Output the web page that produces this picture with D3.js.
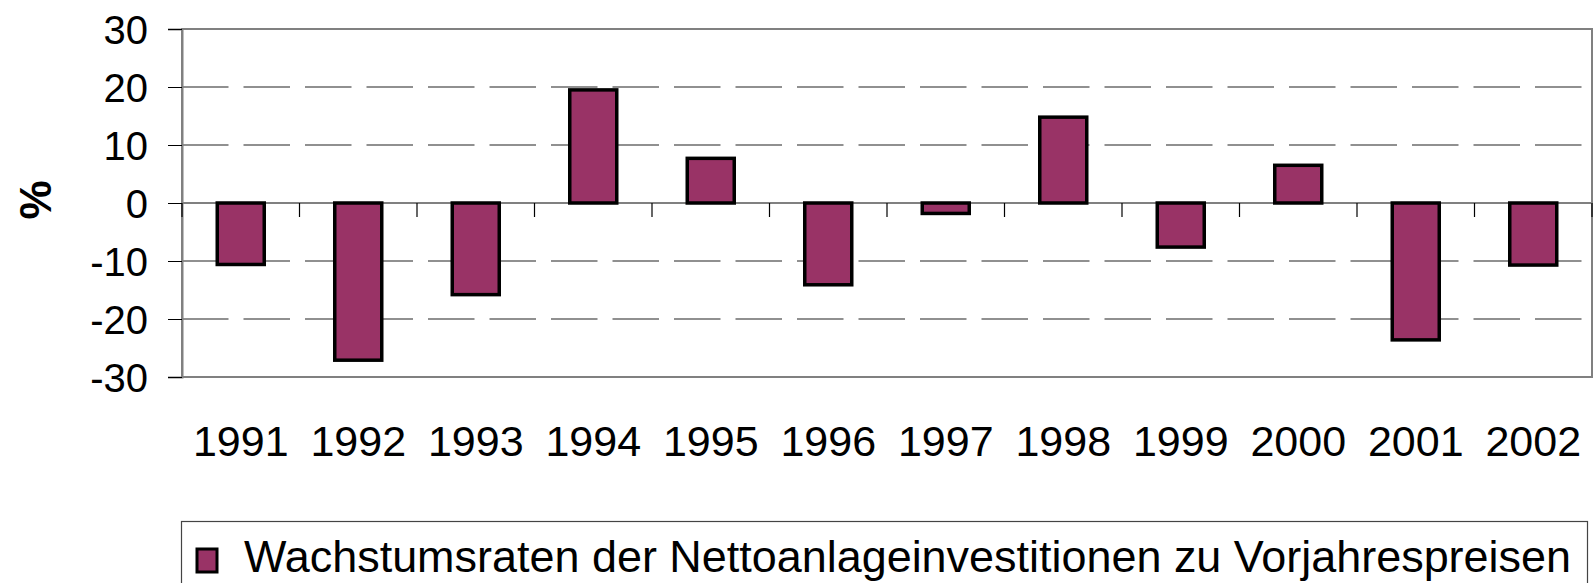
<!DOCTYPE html>
<meta charset="utf-8">
<title>Wachstumsraten der Nettoanlageinvestitionen</title>
<script src="https://d3js.org/d3.v7.min.js"></script>
<style>
  body { margin: 0; background: #fff; }
  text { font-family: "Liberation Sans", Arial, sans-serif; }
</style>
<body>
<svg width="1594" height="583"></svg>
<script>

  // Data
  var years = ["1991", "1992", "1993", "1994", "1995", "1996",
               "1997", "1998", "1999", "2000", "2001", "2002"];
  var rates = [-10.6, -27.1, -15.8, 19.5, 7.7, -14.1,
               -1.8, 14.8, -7.6, 6.5, -23.6, -10.7];
  var yTicks = [-30, -20, -10, 0, 10, 20, 30];
  var seriesName = "Wachstumsraten der Nettoanlageinvestitionen zu Vorjahrespreisen";

  var data = years.map(function(y, i) { return {year: y, value: rates[i]}; });

  var svg = d3.select("svg"),
      margin = {top: 29, right: 2, bottom: 206, left: 182},
      width = svg.attr("width") - margin.left - margin.right,
      height = svg.attr("height") - margin.top - margin.bottom;

  var g = svg.append("g")
      .attr("transform", "translate(" + margin.left + "," + margin.top + ")");

  var x = d3.scaleBand()
      .domain(years)
      .range([0, width])
      .paddingInner(0.6)
      .paddingOuter(0.3);

  var y = d3.scaleLinear()
      .domain([-30, 30])
      .range([height, 0]);

  // Dashed gridlines
  g.selectAll(".grid")
    .data(yTicks.filter(function(d) { return d !== 0 && Math.abs(d) !== 30; }))
    .enter().append("line")
      .attr("class", "grid")
      .attr("x1", 0)
      .attr("x2", width)
      .attr("y1", function(d) { return y(d); })
      .attr("y2", function(d) { return y(d); })
      .attr("stroke", "#222")
      .attr("stroke-width", 1.2)
      .attr("stroke-dasharray", "46.5,15");

  // Plot area border
  g.append("rect")
      .attr("x", 0)
      .attr("y", 0)
      .attr("width", width)
      .attr("height", height)
      .attr("fill", "none")
      .attr("stroke", "#808080")
      .attr("stroke-width", 2);

  // Y axis (plain hyphen for negatives, like the original)
  var yAxis = d3.axisLeft(y)
      .tickValues(yTicks)
      .tickFormat(function(d) { return String(d); })
      .tickSize(14)
      .tickPadding(20);

  g.append("g")
      .attr("class", "axis axis--y")
      .call(yAxis)
      .call(function(a) {
        a.select(".domain").attr("stroke", "#808080").attr("stroke-width", 2);
        a.selectAll(".tick line").attr("stroke", "#000");
        a.selectAll(".tick text")
          .attr("font-size", "40px")
          .attr("fill", "#000")
          .attr("dy", "0.36em");
      });

  // Zero line with category ticks
  g.append("line")
      .attr("x1", 0)
      .attr("x2", width)
      .attr("y1", y(0))
      .attr("y2", y(0))
      .attr("stroke", "#808080")
      .attr("stroke-width", 2);

  var step = x.step();
  var boundaries = d3.range(years.length + 1).map(function(i) { return i * step; });

  g.selectAll(".cat-tick")
    .data(boundaries)
    .enter().append("line")
      .attr("class", "cat-tick")
      .attr("x1", function(d) { return d; })
      .attr("x2", function(d) { return d; })
      .attr("y1", y(0))
      .attr("y2", y(0) + 14)
      .attr("stroke", "#000")
      .attr("stroke-width", 1.2);

  // Bars
  g.selectAll(".bar")
    .data(data)
    .enter().append("rect")
      .attr("class", "bar")
      .attr("x", function(d) { return x(d.year); })
      .attr("y", function(d) { return y(Math.max(0, d.value)); })
      .attr("width", x.bandwidth())
      .attr("height", function(d) { return Math.abs(y(d.value) - y(0)); })
      .attr("fill", "#993366")
      .attr("stroke", "#000")
      .attr("stroke-width", 3.5);

  // X labels
  g.selectAll(".xlabel")
    .data(years)
    .enter().append("text")
      .attr("class", "xlabel")
      .attr("x", function(d) { return x(d) + x.bandwidth() / 2; })
      .attr("y", 456 - margin.top)
      .attr("text-anchor", "middle")
      .attr("font-size", "43px")
      .text(function(d) { return d; });

  // Y axis title
  svg.append("text")
      .attr("transform", "translate(51,200) rotate(-90)")
      .attr("text-anchor", "middle")
      .attr("font-size", "44px")
      .attr("font-weight", "bold")
      .text("%");

  // Legend
  var legend = svg.append("g").attr("class", "legend");

  legend.append("rect")
      .attr("x", 181.5)
      .attr("y", 521.5)
      .attr("width", 1406)
      .attr("height", 100)
      .attr("fill", "none")
      .attr("stroke", "#444")
      .attr("stroke-width", 1.2);

  legend.append("rect")
      .attr("x", 197)
      .attr("y", 549)
      .attr("width", 20)
      .attr("height", 23)
      .attr("fill", "#993366")
      .attr("stroke", "#000")
      .attr("stroke-width", 3);

  legend.append("text")
      .attr("x", 244)
      .attr("y", 572)
      .attr("font-size", "44px")
      .attr("textLength", 1327)
      .attr("lengthAdjust", "spacingAndGlyphs")
      .text(seriesName);

</script>
</body>
